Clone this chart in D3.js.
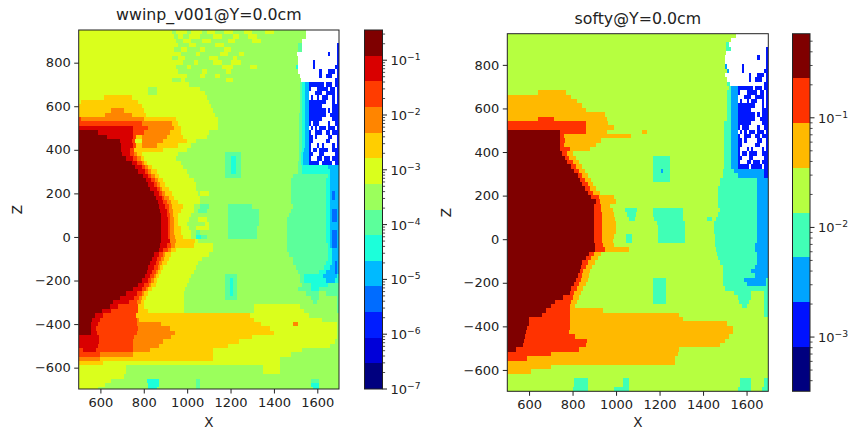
<!DOCTYPE html>
<html>
<head>
<meta charset="utf-8">
<script src="https://cdn.jsdelivr.net/npm/d3@7"></script>
<style>
body { margin: 0; background: #fff; }
svg { display: block; }
text { font-family: "DejaVu Sans", sans-serif; fill: #222; }
</style>
</head>
<body>
<div id="chart"></div>
<script>
// level colours, lowest level first
const coloursA = ["#00007f","#0000d9","#001dff","#006cff","#00baff","#1cffda","#5cff9b","#9bff5c","#daff1c","#ffce00","#ff8500","#ff3c00","#d90000","#7f0000"];
const coloursB = ["#00007f","#0012ff","#00a4ff","#41ffb6","#b6ff41","#ffb900","#ff3200","#7f0000"];

const xTicks = [600, 800, 1000, 1200, 1400, 1600];
const zTicks = [-600, -400, -200, 0, 200, 400, 600, 800];
const barTicksA = [1e-7, 1e-6, 1e-5, 1e-4, 1e-3, 1e-2, 1e-1];
const barTicksB = [1e-3, 1e-2, 1e-1];

// each row is 20 cm tall, top row first: "level xEnd level xEnd ..." ("." = no value, a = 10, b = 11, c = 12, d = 13)
const rowsA = [
"8 930 7 950 8 1000 7 1020 8 1070 7 1090 8 1130 7 1170 8 1210 7 1260 8 1300 7 1360 8 1400 7 1550 . 1560",
"8 940 7 960 8 980 7 1010 8 1060 7 1120 8 1160 7 1210 8 1240 7 1280 8 1320 7 1550 . 1560",
"8 950 7 980 8 1020 7 1070 8 1110 7 1190 8 1220 7 1300 8 1340 7 1530 . 1560",
"8 960 7 1010 8 1040 7 1130 8 1170 7 1510 6 1530 . 1560",
"8 940 7 970 8 1000 7 1060 8 1080 7 1170 8 1200 7 1510 6 1530 . 1560",
"8 970 7 1040 8 1060 7 1150 8 1190 7 1240 8 1260 7 1505 . 1560",
"8 930 7 960 8 990 7 1100 8 1140 7 1210 8 1230 7 1510 . 1560",
"8 980 7 1030 8 1050 7 1120 8 1160 7 1200 8 1250 7 1510 . 1560",
"8 950 7 1000 8 1020 7 1160 8 1210 7 1290 8 1320 7 1500 5 1510 . 1560",
"8 960 7 1070 8 1090 7 1180 8 1200 7 1510 . 1560",
"8 1000 7 1060 8 1080 7 1130 8 1150 7 1520 . 1560",
"8 930 7 970 8 990 7 1180 8 1210 7 1525 . 1560",
"8 1010 7 1520 6 1530 5 1545 4 1560",
"8 820 7 860 8 1060 7 1520 6 1530 5 1545 4 1560",
"8 820 7 860 8 1080 7 1520 6 1530 5 1545 4 1560",
"8 615 9 745 8 1090 7 1520 6 1530 5 1545 4 1560",
"8 510 9 775 8 1100 7 1520 6 1530 5 1545 4 1560",
"9 790 8 1110 7 1520 6 1530 5 1545 4 1560",
"9 650 a 710 9 800 8 1120 7 1520 6 1530 5 1545 4 1560",
"9 620 a 745 9 810 8 1130 7 1515 6 1530 5 1545 4 1560",
"b 510 a 800 9 950 8 1140 7 1515 6 1530 5 1545 4 1560",
"b 790 a 930 9 960 8 1140 7 1515 6 1530 5 1545 4 1560",
"c 750 b 820 a 940 9 970 8 1140 7 1515 6 1530 5 1545 4 1560",
"d 590 c 750 b 800 a 920 9 970 8 1100 7 1515 6 1530 5 1545 4 1560",
"d 630 c 750 b 765 9 790 a 905 9 980 8 1090 7 1515 6 1530 5 1545 4 1560",
"d 690 c 745 b 760 8 790 a 890 9 1000 8 1040 7 1515 6 1530 5 1545 4 1560",
"d 694 c 750 b 765 9 790 a 860 9 960 8 1020 7 1515 6 1530 5 1545 4 1560",
"d 694 c 735 b 755 9 890 8 1000 7 1515 6 1530 5 1540 4 1560",
"d 700 c 735 b 755 a 770 9 790 8 960 7 1175 6 1250 7 1515 6 1525 5 1535 4 1560",
"d 720 c 750 b 770 a 785 9 800 8 950 7 1175 6 1200 5 1225 6 1250 7 1515 6 1525 5 1535 4 1560",
"d 745 c 770 b 790 a 800 9 815 8 970 7 1175 6 1200 5 1225 6 1250 7 1510 6 1525 5 1535 4 1560",
"d 760 c 790 b 805 a 820 9 840 8 980 7 1175 6 1200 5 1225 6 1250 7 1510 6 1530 5 1650 4 1700",
"d 775 c 805 b 820 a 835 9 860 8 1000 7 1175 6 1200 5 1225 6 1250 7 1510 6 1530 5 1660 4 1700",
"d 795 c 820 b 835 a 850 9 870 8 1010 7 1175 6 1250 7 1490 6 1650 5 1660 4 1700",
"d 810 c 835 b 850 a 865 9 890 8 1030 7 1480 6 1640 5 1660 4 1700",
"d 820 c 845 b 860 a 875 9 900 8 1040 7 1480 6 1640 5 1660 4 1700",
"d 830 c 860 b 875 a 885 9 915 8 1040 7 1480 6 1640 5 1660 4 1700",
"d 845 c 870 b 885 a 900 9 930 8 1050 7 1060 8 1100 7 1480 6 1640 5 1660 4 1670 3 1680 4 1700",
"d 855 c 885 b 895 a 915 9 940 8 1060 7 1480 6 1640 5 1660 4 1670 3 1680 4 1700",
"d 865 c 890 b 905 a 925 9 960 8 1060 7 1480 6 1640 5 1660 4 1700",
"d 872 c 900 b 915 a 930 9 980 8 1030 7 1060 6 1100 7 1190 6 1300 7 1490 6 1640 5 1660 4 1700",
"d 875 c 905 b 915 a 935 9 970 8 1030 7 1050 6 1090 7 1190 6 1330 7 1480 6 1640 5 1660 4 1670 3 1690 4 1700",
"d 878 c 905 b 920 a 935 9 960 8 1020 7 1190 6 1330 7 1470 6 1640 5 1660 4 1670 3 1690 4 1700",
"d 878 c 910 b 920 a 940 9 960 8 1010 7 1050 8 1090 7 1190 6 1330 7 1460 6 1640 5 1660 4 1670 3 1690 4 1700",
"d 878 c 910 b 920 a 940 9 960 8 1000 7 1080 8 1100 7 1190 6 1330 7 1460 6 1640 5 1660 4 1700",
"d 878 c 910 b 920 a 940 9 970 8 1010 7 1040 8 1100 7 1190 6 1320 7 1460 6 1640 5 1660 4 1700",
"d 878 c 910 b 920 a 940 9 970 8 1020 7 1040 6 1060 7 1190 6 1320 7 1460 6 1640 5 1660 4 1670 3 1690 4 1700",
"d 878 c 910 b 920 a 945 9 980 8 1020 7 1040 5 1065 6 1090 7 1190 6 1320 7 1460 6 1640 5 1660 4 1670 3 1690 4 1700",
"d 878 c 920 a 950 9 1035 8 1050 7 1460 6 1640 5 1660 4 1670 3 1690 4 1700",
"d 875 c 905 b 925 a 945 9 1030 8 1120 7 1460 6 1650 5 1660 4 1670 3 1690 4 1700",
"d 868 c 890 b 910 a 925 9 950 8 1120 7 1460 6 1650 5 1670 4 1700",
"d 845 c 870 b 890 a 900 9 925 8 1100 7 1470 6 1650 5 1670 4 1700",
"d 837 c 860 b 880 a 895 9 915 8 1070 7 1490 6 1650 5 1670 4 1700",
"d 830 c 855 b 870 a 885 9 905 8 1050 7 1490 6 1640 5 1670 4 1680 3 1690 4 1700",
"d 820 c 845 b 865 a 875 9 890 8 1040 7 1500 6 1630 5 1660 4 1680 3 1690 4 1700",
"d 814 c 840 b 855 a 865 9 880 8 1030 7 1510 6 1610 5 1640 4 1680 3 1690 4 1700",
"d 806 c 830 b 845 a 855 9 870 8 1020 7 1175 6 1230 7 1520 6 1540 5 1625 4 1690 5 1700",
"d 790 c 820 b 835 a 845 9 860 8 1010 7 1175 6 1197 5 1212 6 1230 7 1520 6 1540 5 1640 4 1680 5 1700",
"d 775 c 800 b 825 a 835 9 855 8 1000 7 1175 6 1197 5 1212 6 1230 7 1530 6 1570 5 1650 6 1700",
"d 752 c 790 b 810 a 820 9 840 8 990 7 1175 6 1197 5 1212 6 1230 7 1510 6 1570 5 1610 6 1700",
"d 720 c 770 b 790 a 800 9 820 8 985 7 1175 6 1197 5 1212 6 1230 7 1550 6 1610 7 1640 6 1700",
"d 690 c 755 b 780 a 790 9 810 8 985 7 1175 6 1230 7 1570 6 1610 7 1690 6 1700",
"d 660 c 730 b 770 a 785 9 800 8 985 7 1580 6 1600 7 1690 6 1700",
"d 645 c 680 b 775 9 800 8 985 7 1310 8 1520 7 1690 6 1700",
"d 606 c 650 b 775 9 820 8 985 7 1310 8 1540 7 1690 6 1700",
"d 575 c 610 b 765 9 1290 8 1560 7 1700",
"d 560 c 600 b 770 a 780 9 1310 8 1620 7 1700",
"d 555 c 590 b 770 a 880 9 1340 8 1490 a 1510 8 1690 7 1700",
"d 555 c 580 b 775 a 920 9 1380 8 1690 7 1700",
"d 555 c 585 b 770 a 945 9 1400 8 1690 7 1700",
"c 595 b 755 a 925 9 1300 8 1690 7 1700",
"c 595 b 750 a 890 9 1240 8 1680 7 1700",
"c 590 b 750 a 870 9 1190 8 1660 7 1700",
"b 520 c 580 b 750 a 830 9 1120 8 1530 7 1700",
"b 600 a 750 9 1120 8 1480 7 1700",
"a 600 9 1120 8 1430 7 1700",
"9 610 8 1430 7 1700",
"8 720 7 1350 8 1430 7 1700",
"8 720 7 1350 8 1430 7 1700",
"8 710 7 1700",
"8 650 7 815 5 870 7 1040 6 1060 7 1570 6 1610 7 1700",
"8 620 7 820 5 870 7 1040 6 1060 7 1570 5 1610 7 1700",
"8 590 7 820 5 860 7 1040 6 1060 7 1580 5 1610 7 1700"
];

const rowsB = [
"4 1550 . 1560",
"4 1530 . 1560",
"4 1505 3 1520 . 1560",
"4 1505 3 1530 . 1560",
"4 1505 . 1560",
"4 1500 . 1560",
"4 1500 . 1560",
"4 1500 2 1510 . 1560",
"4 1510 2 1520 . 1560",
"4 1500 . 1560",
"4 1510 . 1560",
"4 1510 3 1525 . 1560",
"4 1520 3 1530 2 1560",
"4 640 5 770 4 1510 3 1530 2 1560",
"5 795 4 1510 3 1530 2 1560",
"5 820 4 1510 3 1530 2 1560",
"5 845 4 1510 3 1530 2 1560",
"5 860 4 1510 3 1530 2 1560",
"5 950 4 1510 3 1530 2 1560",
"5 640 6 715 5 960 4 1510 3 1530 2 1560",
"6 860 5 965 4 1495 3 1530 2 1560",
"6 860 5 990 4 1495 3 1530 2 1560",
"7 740 6 860 5 960 4 1120 5 1140 4 1495 3 1530 2 1560",
"7 740 6 760 5 1070 4 1495 3 1530 2 1560",
"7 740 6 765 5 930 4 1495 3 1530 2 1560",
"7 740 6 760 5 910 4 1495 3 1530 2 1560",
"7 740 6 790 5 880 4 1495 3 1530 2 1560",
"7 750 6 775 5 800 4 1495 3 1530 2 1560",
"7 765 6 785 5 815 4 1170 3 1250 4 1495 3 1530 2 1560",
"7 775 6 800 5 830 4 1170 3 1250 4 1495 3 1530 2 1560",
"7 795 6 815 5 845 4 1170 3 1250 4 1495 3 1530 2 1560",
"7 805 6 830 5 855 4 1170 3 1205 2 1215 3 1250 4 1490 3 1540 2 1680 1 1700",
"7 825 6 845 5 870 4 1170 3 1250 4 1490 3 1560 2 1680 1 1700",
"7 835 6 855 5 885 4 1170 3 1250 4 1480 3 1650 2 1700",
"7 845 6 870 5 895 4 1480 3 1650 2 1700",
"7 857 6 880 5 910 4 1470 3 1650 2 1700",
"7 870 6 895 5 925 4 1470 3 1650 2 1700",
"7 885 6 920 5 990 4 1470 3 1650 2 1700",
"7 908 6 925 5 1000 4 1470 3 1650 2 1700",
"7 898 6 930 5 970 4 1470 3 1650 2 1700",
"7 900 6 930 5 985 4 1040 3 1095 4 1170 3 1310 4 1480 3 1650 2 1700",
"7 900 6 935 5 990 4 1050 3 1090 4 1170 3 1310 4 1470 3 1650 2 1700",
"7 900 6 935 5 995 4 1060 3 1085 4 1175 3 1310 4 1420 3 1440 4 1460 3 1650 2 1700",
"7 900 6 935 5 1000 4 1190 3 1315 4 1450 3 1650 2 1700",
"7 900 6 935 5 1000 4 1195 3 1315 4 1450 3 1650 2 1700",
"7 900 6 935 5 1000 4 1195 3 1315 4 1450 3 1650 2 1700",
"7 900 6 935 5 990 4 1045 3 1075 4 1195 3 1318 4 1455 3 1650 2 1700",
"7 900 6 935 5 985 4 1045 3 1075 4 1195 3 1315 4 1455 3 1650 2 1700",
"7 905 6 940 5 990 4 1455 3 1640 2 1700",
"7 905 6 950 5 1060 4 1460 3 1640 2 1700",
"7 875 6 900 5 930 4 1465 3 1650 2 1700",
"7 860 6 885 5 915 4 1470 3 1650 2 1700",
"7 845 6 870 5 905 4 1480 3 1650 2 1700",
"7 840 6 860 5 890 4 1490 3 1640 2 1700",
"7 834 6 850 5 880 4 1490 3 1620 2 1700",
"7 825 6 845 5 875 4 1490 3 1640 2 1700",
"7 815 6 840 5 870 4 1170 3 1230 4 1490 3 1590 2 1690 3 1700",
"7 805 6 830 5 860 4 1170 3 1230 4 1490 3 1600 2 1690 3 1700",
"7 795 6 820 5 850 4 1170 3 1230 4 1500 3 1700",
"7 790 6 805 5 840 4 1170 3 1230 4 1540 3 1620 4 1680 3 1700",
"7 757 6 800 5 830 4 1170 3 1230 4 1560 3 1620 4 1680 3 1700",
"7 720 6 795 5 820 4 1170 3 1230 4 1565 3 1610 4 1680 3 1700",
"7 700 6 790 5 810 4 1580 3 1600 4 1680 3 1700",
"7 680 6 790 5 940 4 1680 3 1700",
"7 660 6 790 5 1290 4 1680 3 1700",
"7 600 6 790 5 1310 4 1700",
"7 600 6 790 5 1510 4 1700",
"7 589 6 790 5 1536 4 1700",
"7 586 6 785 5 1536 4 1700",
"7 580 6 810 5 1520 4 1700",
"7 578 6 865 5 1500 4 1700",
"7 572 6 860 5 1480 4 1700",
"7 540 6 830 5 1290 4 1700",
"6 700 5 1285 4 1700",
"6 590 5 1270 4 1700",
"5 1270 4 1700",
"5 700 4 1700",
"5 610 4 1700",
"4 1700",
"4 805 3 870 4 1030 3 1060 4 1570 3 1620 4 1680 3 1700",
"4 805 3 870 4 1030 3 1060 4 1570 3 1620 4 1680 3 1700",
"4 800 3 870 4 990 3 1060 4 1560 3 1620 4 1670 3 1700",
"4 800 3 870 4 990 3 1060 4 1560 3 1620 4 1670 3 1700"
];

// patchy corner at the top right, 10 cm per character from x = 1560 (B = lowest blue that shows, . = no value)
const voidCells = [
"..............",
"..............",
"..............",
".............B",
".............B",
".........B...B",
".............B",
"..B..........B",
"..B.........BB",
".....B...BBB.B",
".....B..BBB..B",
"............BB",
"BBBBBBB.BBB.BB",
"B...BBBBB.BB.B",
"...BBB..BBBB.B",
".B..B.BBB..B.B",
"BBBBBBBB...B.B",
"BBBBBB.....BBB",
"BBBBBBBB.B.BBB",
"BBBBBBBB..BBBB",
"BBBBBB.....BBB",
"B.BBB....B..BB",
".B.B.BBB.BBB.B",
"B..BBB..BB.BBB",
"BB.B.....BB..B",
"BB......BB...B",
"B...B.B....B.B",
"B.BB.BBBB..BBB",
"BB...BB.....BB",
"B...BB.BBB.BBB",
"BBBBB.BBBBB.BB"
];

const width = 850, height = 430;

const svg = d3.select("#chart").append("svg")
  .attr("width", width)
  .attr("height", height);

// the reference heatmaps are slightly soft from resampling
svg.append("filter").attr("id", "soft")
  .attr("x", "-2%").attr("y", "-2%").attr("width", "104%").attr("height", "104%")
  .append("feGaussianBlur").attr("stdDeviation", 0.55);

function expandRow(row, voidLevel, i) {
  const parts = row.split(" ");
  const runs = [];
  let start = 500;
  for (let k = 0; k < parts.length; k += 2) {
    const end = +parts[k + 1];
    if (parts[k] != ".") runs.push({row: i, x0: start, x1: end, level: parseInt(parts[k], 16)});
    start = end;
  }
  if (i < voidCells.length) {
    voidCells[i].split("").forEach((c, j) => {
      if (c == "B") runs.push({row: i, x0: 1560 + j * 10, x1: 1570 + j * 10, level: voidLevel});
    });
  }
  return runs;
}

function panel(p) {
  const xScale = d3.scaleLinear().domain([500, 1700]).range([p.left, p.right]);
  const zScale = d3.scaleLinear().domain([p.zBottom, p.zTop]).range([p.bottom, p.top]);
  const g = svg.append("g");

  svg.append("clipPath").attr("id", p.id)
    .append("rect")
    .attr("x", p.left).attr("y", p.top)
    .attr("width", p.right - p.left).attr("height", p.bottom - p.top);

  g.append("g").attr("clip-path", "url(#" + p.id + ")")
    .append("g").attr("filter", "url(#soft)")
    .attr("shape-rendering", "crispEdges")
    .selectAll("rect")
    .data(p.rows.flatMap((r, i) => expandRow(r, p.voidLevel, i)))
    .join("rect")
    .attr("x", d => xScale(d.x0))
    .attr("width", d => xScale(d.x1) - xScale(d.x0))
    .attr("y", d => zScale(p.zTop - d.row * 20))
    .attr("height", d => zScale(p.zTop - (d.row + 1) * 20) - zScale(p.zTop - d.row * 20))
    .attr("fill", d => p.colours[d.level]);

  g.append("rect")
    .attr("x", p.left).attr("y", p.top)
    .attr("width", p.right - p.left).attr("height", p.bottom - p.top)
    .attr("fill", "none").attr("stroke", "#222").attr("stroke-width", 1);

  const xAxis = g.append("g").attr("transform", "translate(0," + p.bottom + ")")
    .call(d3.axisBottom(xScale).tickValues(xTicks).tickFormat(d3.format("d")).tickSize(4.5).tickPadding(4));
  const zAxis = g.append("g").attr("transform", "translate(" + p.left + ",0)")
    .call(d3.axisLeft(zScale).tickValues(zTicks).tickFormat(d3.format("d")).tickSize(4.5).tickPadding(3.5));
  [xAxis, zAxis].forEach(a => {
    a.select(".domain").remove();
    a.selectAll("line").attr("stroke", "#222");
    a.selectAll("text").attr("font-size", 13).attr("font-family", "DejaVu Sans").attr("fill", "#222");
  });

  g.append("text").attr("x", (p.left + p.right) / 2).attr("y", p.titleY)
    .attr("text-anchor", "middle").attr("font-size", 15.8).text(p.title);
  g.append("text").attr("x", (p.left + p.right) / 2).attr("y", p.xLabelY)
    .attr("text-anchor", "middle").attr("font-size", 13.5).text("X");
  g.append("text")
    .attr("transform", "translate(" + p.zLabelX + "," + (p.top + p.bottom) / 2 + ") rotate(-90)")
    .attr("text-anchor", "middle").attr("font-size", 13.5).text("Z");

  // colour bar
  const levels = d3.range(p.colours.length);
  const band = d3.scaleBand().domain(levels).range([p.bottom, p.top]);
  const logScale = d3.scaleLog().domain(p.barDomain).range([p.bottom, p.top]);
  const bar = g.append("g");
  bar.append("g").attr("shape-rendering", "crispEdges")
    .selectAll("rect").data(levels).join("rect")
    .attr("x", p.barLeft)
    .attr("width", p.barRight - p.barLeft)
    .attr("y", d => band(d))
    .attr("height", band.bandwidth())
    .attr("fill", d => p.colours[d]);
  bar.append("rect")
    .attr("x", p.barLeft).attr("y", p.top)
    .attr("width", p.barRight - p.barLeft).attr("height", p.bottom - p.top)
    .attr("fill", "none").attr("stroke", "#222").attr("stroke-width", 1);

  const minor = logScale.ticks().filter(t => !p.barTicks.some(m => Math.abs(m / t - 1) < 1e-6));
  bar.selectAll(".minor").data(minor).join("line").attr("class", "minor")
    .attr("x1", p.barRight).attr("x2", p.barRight + 2.6)
    .attr("y1", d => logScale(d)).attr("y2", d => logScale(d))
    .attr("stroke", "#222").attr("stroke-width", 0.8);
  bar.selectAll(".major").data(p.barTicks).join("line").attr("class", "major")
    .attr("x1", p.barRight).attr("x2", p.barRight + 4.5)
    .attr("y1", d => logScale(d)).attr("y2", d => logScale(d))
    .attr("stroke", "#222");
  const labels = bar.selectAll(".lab").data(p.barTicks).join("text").attr("class", "lab")
    .attr("x", p.barRight + 8)
    .attr("y", d => logScale(d) + 5)
    .attr("font-size", 13);
  labels.append("tspan").text("10");
  labels.append("tspan").attr("dy", -5).attr("font-size", 9.2)
    .text(d => "\u2212" + Math.round(-Math.log10(d)));
}

panel({
  id: "clipA", title: "wwinp_v001@Y=0.0cm", rows: rowsA, colours: coloursA, voidLevel: 2,
  left: 78.7, right: 339, top: 30, bottom: 389, zTop: 950, zBottom: -698,
  titleY: 20, xLabelY: 426.5, zLabelX: 22,
  barLeft: 364.5, barRight: 382.5, barDomain: [1e-7, 0.356], barTicks: barTicksA
});

panel({
  id: "clipB", title: "softy@Y=0.0cm", rows: rowsB, colours: coloursB, voidLevel: 1,
  left: 507.3, right: 768.3, top: 33.7, bottom: 391.3, zTop: 943, zBottom: -698,
  titleY: 24, xLabelY: 426.5, zLabelX: 451,
  barLeft: 792.5, barRight: 810, barDomain: [3.2e-4, 0.585], barTicks: barTicksB
});
</script>
</body>
</html>
